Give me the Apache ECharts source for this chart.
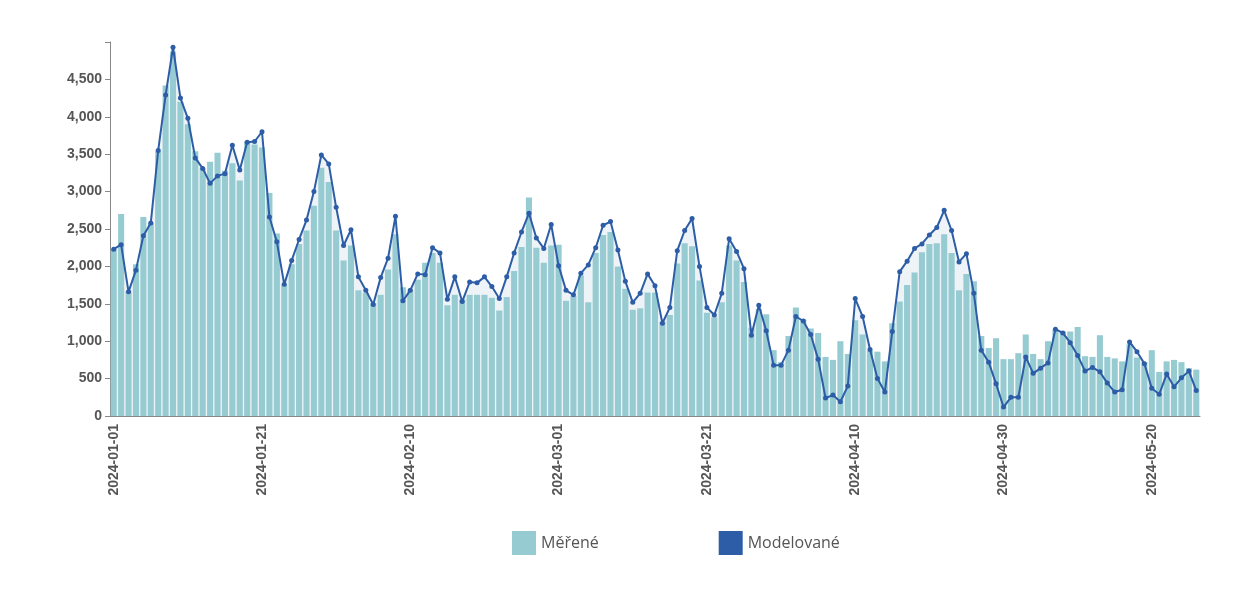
<!DOCTYPE HTML>
<html>
<head>
<meta charset="utf-8"/>
<style>
  * { padding: 0; margin: 0; }
  body { background: #fff; }
  #chart { width: 1242px; height: 600px; }
</style>
</head>
<body>
<div id="chart"></div>
<script src="https://cdn.jsdelivr.net/npm/echarts@6/dist/echarts.min.js"></script>
<script>
// measured values per day
const measured = [
  2230, 2700, 1670, 2030, 2660, 2580, 3540, 4420, 4870, 4200, 3900, 3540, 3310, 3400, 3520, 3280, 3380, 3150, 3670, 3630, 3590, 2980, 2440, 1750, 2030, 2300, 2480, 2810, 3320, 3130, 2480,
  2080, 2280, 1680, 1650, 1510, 1620, 1960, 2430, 1720, 1680, 1820, 2050, 2180, 2050, 1480, 1620, 1560, 1620, 1620, 1620, 1580, 1410, 1590, 1940, 2260, 2920, 2250, 2050, 2280,
  2290, 1540, 1600, 1880, 1520, 2180, 2420, 2460, 2000, 1700, 1420, 1440, 1650, 1650, 1260, 1350, 2040, 2310, 2270, 1810, 1380, 1320, 1520, 2280, 2080, 1790, 1180, 1430, 1360, 880, 720,
  1070, 1450, 1290, 1170, 1110, 790, 750, 1000, 830, 1280, 1090, 870, 860, 730, 1240, 1530, 1750, 1920, 2190, 2300, 2310, 2430, 2180, 1680, 1900, 1800, 1070, 910, 1040, 760,
  760, 840, 1090, 830, 760, 1000, 1150, 1130, 1130, 1190, 800, 790, 1080, 790, 770, 730, 960, 780, 720, 880, 590, 730, 750, 720, 640, 620
];
// modelled values per day
const modelled = [
  2230, 2290, 1660, 1950, 2410, 2580, 3550, 4290, 4930, 4250, 3980, 3450, 3310, 3110, 3210, 3240, 3620, 3290, 3660, 3670, 3800, 2660, 2330, 1760, 2080, 2360, 2620, 3000, 3490, 3370, 2790,
  2280, 2490, 1860, 1680, 1490, 1850, 2110, 2670, 1540, 1680, 1900, 1890, 2250, 2180, 1560, 1860, 1530, 1790, 1780, 1860, 1730, 1570, 1860, 2180, 2460, 2710, 2380, 2240, 2560,
  2010, 1680, 1620, 1910, 2020, 2250, 2550, 2600, 2220, 1800, 1520, 1640, 1900, 1740, 1240, 1450, 2210, 2480, 2640, 2000, 1450, 1350, 1640, 2370, 2200, 1970, 1080, 1480, 1140, 680, 680,
  880, 1330, 1270, 1090, 760, 240, 280, 190, 400, 1570, 1330, 890, 500, 320, 1130, 1930, 2070, 2240, 2300, 2420, 2520, 2750, 2480, 2060, 2170, 1640, 880, 720, 430, 120,
  250, 250, 790, 570, 640, 710, 1160, 1110, 980, 810, 600, 650, 590, 440, 320, 350, 990, 860, 700, 370, 290, 560, 390, 510, 600, 340
];
const dates = [];
for (let i = 0; i < measured.length; i++) {
  const d = new Date(Date.UTC(2024, 0, 1 + i));
  dates.push(d.toISOString().slice(0, 10));
}

const chart = echarts.init(document.getElementById('chart'));
chart.setOption({
  animation: false,
  grid: { left: 110, right: 42, top: 42, bottom: 184 },
  legend: {
    bottom: 40, left: 507, itemGap: 120, itemWidth: 24, itemHeight: 24,
    textStyle: { color: '#555', fontSize: 16, fontFamily: 'Open Sans' },
    data: [{ name: 'Měřené', icon: 'rect' }, { name: 'Modelované', icon: 'rect' }]
  },
  xAxis: {
    type: 'category', data: dates, boundaryGap: true,
    axisLine: { lineStyle: { color: '#888' } },
    axisTick: { interval: 19, alignWithLabel: true, lineStyle: { color: '#888' } },
    axisLabel: { interval: 19, rotate: 90, color: '#555', fontSize: 14, fontWeight: 'bold', fontFamily: 'Liberation Sans' }
  },
  yAxis: {
    type: 'value', min: 0, max: 5000, interval: 500,
    splitLine: { show: false },
    axisLine: { show: true, lineStyle: { color: '#888' } },
    axisTick: { show: true, lineStyle: { color: '#888' } },
    axisLabel: {
      color: '#555', fontSize: 14, fontWeight: 'bold', fontFamily: 'Liberation Sans',
      formatter: v => v === 5000 ? '' : v.toLocaleString('en-US')
    }
  },
  series: [
    {
      name: 'shade', type: 'line', data: modelled, symbol: 'none', z: 1,
      lineStyle: { width: 0 }, areaStyle: { color: '#e6eef2' }, silent: true
    },
    {
      name: 'Měřené', type: 'bar', data: measured, z: 2, barCategoryGap: '18%',
      itemStyle: { color: '#97cbd2' }
    },
    {
      name: 'Modelované', type: 'line', data: modelled, z: 3,
      symbol: 'circle', symbolSize: 5, showAllSymbol: true,
      itemStyle: { color: '#2d5da6' }, lineStyle: { color: '#2d5da6', width: 2 }
    }
  ]
});
</script>
</body>
</html>
